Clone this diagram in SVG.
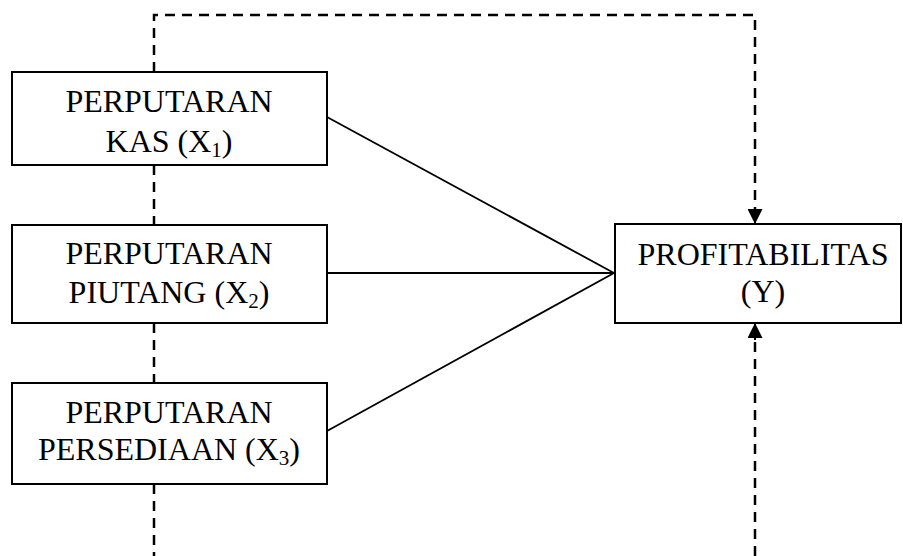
<svg xmlns="http://www.w3.org/2000/svg" width="903" height="556" viewBox="0 0 903 556">
<style>
.box{fill:#fff;stroke:#000;stroke-width:2}
.t{font-family:"Liberation Serif","Times New Roman",serif;font-size:32px;fill:#000;text-anchor:middle}
.sub{font-size:21px}
.solid{stroke:#000;stroke-width:1.8;fill:none}
.dash{stroke:#000;stroke-width:2.5;fill:none;stroke-dasharray:10 7}
</style>
<defs>
<marker id="ah" markerWidth="15" markerHeight="15" viewBox="0 0 15 15" refX="15" refY="7.5" orient="auto" markerUnits="userSpaceOnUse">
<path d="M0,0 L15,7.5 L0,15 Z" fill="#000"/>
</marker>
</defs>
<g id="connectors">
<path class="dash" d="M154,72 V15 H755 V209"/>
<path d="M755,208 V224" stroke="#000" stroke-width="2" marker-end="url(#ah)"/>
<path class="dash" d="M154,165 V225"/>
<path class="dash" d="M154,323 V383"/>
<path class="dash" d="M154,484 V556"/>
<path class="dash" d="M755,556 V339"/>
<path d="M755,340 V323" stroke="#000" stroke-width="2" marker-end="url(#ah)"/>
<line class="solid" x1="327" y1="117" x2="614" y2="273"/>
<line class="solid" x1="327" y1="273" x2="614" y2="273"/>
<line class="solid" x1="327" y1="431" x2="614" y2="273"/>
</g>
<g id="x1">
<rect class="box" x="12" y="72" width="315" height="93"/>
<text class="t" x="169" y="112">PERPUTARAN</text>
<text class="t" x="169" y="152">KAS (X<tspan class="sub" dy="5">1</tspan><tspan dy="-5">)</tspan></text>
</g>
<g id="x2">
<rect class="box" x="12" y="225" width="315" height="98"/>
<text class="t" x="169" y="264">PERPUTARAN</text>
<text class="t" x="169" y="303">PIUTANG (X<tspan class="sub" dy="5">2</tspan><tspan dy="-5">)</tspan></text>
</g>
<g id="x3">
<rect class="box" x="12" y="383" width="315" height="101"/>
<text class="t" x="169" y="423">PERPUTARAN</text>
<text class="t" x="169" y="460">PERSEDIAAN (X<tspan class="sub" dy="5">3</tspan><tspan dy="-5">)</tspan></text>
</g>
<g id="y">
<rect class="box" x="615" y="224" width="286" height="99"/>
<text class="t" x="763" y="265">PROFITABILITAS</text>
<text class="t" x="763" y="302">(Y)</text>
</g>
</svg>
